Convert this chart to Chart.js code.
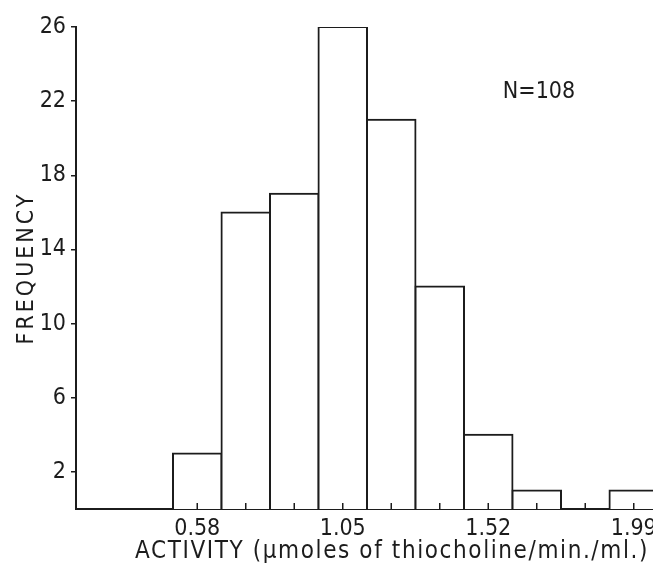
<!DOCTYPE html>
<html lang="en">
<head>
<meta charset="UTF-8">
<title>Activity histogram</title>
<script src="https://cdn.jsdelivr.net/npm/chart.js"></script>
<style>
    html, body { margin: 0; padding: 0; background: #fff; overflow: hidden; }
    #wrap { width: 660px; height: 564px; }
</style>
</head>
<body>
<div id="wrap"><canvas id="histChart" width="660" height="564"></canvas></div>
<script>
// bins along the x axis; only every third bin carries a label
const binLabels = ['', '', '0.58', '', '', '1.05', '', '', '1.52', '', '', '1.99'];
// frequency per bin (first two bins are empty room left of the data)
const frequencies = [null, null, 3, 16, 17, 26, 21, 12, 4, 1, 0, 1];
const yTicks = [2, 6, 10, 14, 18, 22, 26];
const xTitle = 'ACTIVITY (\u03bcmoles of thiocholine/min./ml.)';
const yTitle = 'FREQUENCY';
const noteText = 'N=108';

const ink = '#1c1c1c';
const fontFamily = "'DejaVu Sans Condensed', 'DejaVu Sans', sans-serif";

// small tick marks pointing up into the plot at every bin centre
const innerTicks = {
    id: 'innerTicks',
    afterDatasetsDraw(chart) {
        const { ctx, chartArea, scales: { x } } = chart;
        ctx.save();
        ctx.strokeStyle = ink;
        ctx.lineWidth = 1.5;
        frequencies.forEach((v, i) => {
            if (v === null) return;
            const px = x.getPixelForValue(i);
            ctx.beginPath();
            ctx.moveTo(px, chartArea.bottom);
            ctx.lineTo(px, chartArea.bottom - 6);
            ctx.stroke();
        });
        ctx.restore();
    }
};

// axis titles (spaced out like the original lettering) and the N= note
const extraText = {
    id: 'extraText',
    afterDraw(chart) {
        const { ctx, chartArea } = chart;
        ctx.save();
        ctx.fillStyle = ink;
        ctx.textBaseline = 'alphabetic';
        ctx.textAlign = 'center';

        ctx.font = '24px ' + fontFamily;
        ctx.letterSpacing = '1.6px';
        ctx.fillText(xTitle, 392, 558);

        ctx.font = '23px ' + fontFamily;
        ctx.letterSpacing = '0px';
        ctx.fillText(noteText, 539, 98);

        ctx.save();
        ctx.translate(33, (chartArea.top + chartArea.bottom) / 2);
        ctx.rotate(-Math.PI / 2);
        ctx.font = '23px ' + fontFamily;
        ctx.letterSpacing = '3px';
        ctx.fillText(yTitle, 0, 0);
        ctx.restore();

        ctx.restore();
    }
};

const config = {
    type: 'bar',
    data: {
        labels: binLabels,
        datasets: [{
            data: frequencies,
            backgroundColor: '#fff',
            borderColor: ink,
            borderWidth: 2,
            inflateAmount: 1,
            barPercentage: 1,
            categoryPercentage: 1
        }]
    },
    options: {
        responsive: false,
        animation: false,
        layout: { padding: { top: 27, right: 2, left: 0, bottom: 0 } },
        plugins: { legend: { display: false }, tooltip: { enabled: false } },
        scales: {
            x: {
                grid: { display: false },
                border: { display: true, color: ink, width: 2 },
                ticks: {
                    autoSkip: false,
                    maxRotation: 0,
                    color: ink,
                    padding: -2,
                    font: { family: fontFamily, size: 23 }
                },
                afterFit(scale) { scale.height = 55; }
            },
            y: {
                min: 0,
                max: 26,
                grid: { drawOnChartArea: false, drawTicks: true, tickLength: 5, color: ink, lineWidth: 1.5 },
                border: { display: true, color: ink, width: 2 },
                ticks: {
                    color: ink,
                    padding: 5,
                    font: { family: fontFamily, size: 23 }
                },
                afterBuildTicks(scale) { scale.ticks = yTicks.map(v => ({ value: v })); },
                afterFit(scale) { scale.width = 76; }
            }
        }
    },
    plugins: [innerTicks, extraText]
};

new Chart(document.getElementById('histChart').getContext('2d'), config);
</script>
</body>
</html>
